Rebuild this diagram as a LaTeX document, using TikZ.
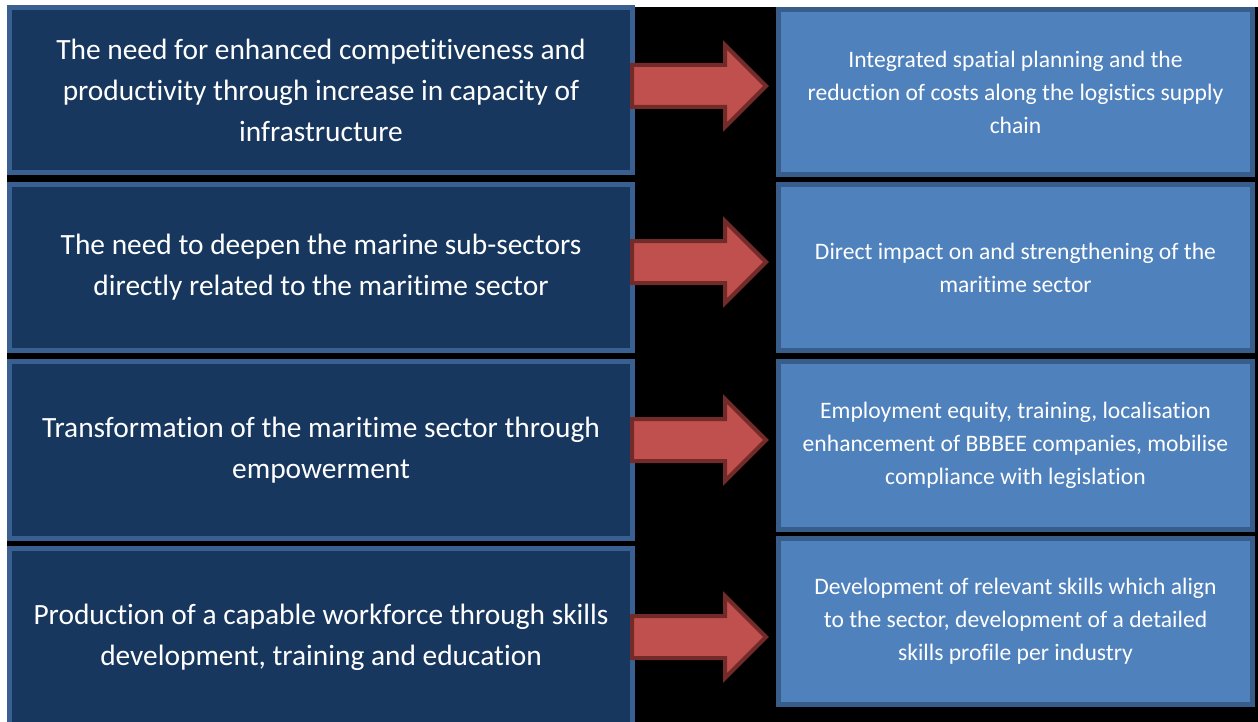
\documentclass[tikz,border=0pt]{standalone}
\usepackage{fontspec}
\setmainfont{Carlito}[Ligatures=NoCommon]
\usetikzlibrary{shapes.arrows}
\definecolor{needfill}{HTML}{17375E}
\definecolor{neededge}{HTML}{3A6091}
\definecolor{outfill}{HTML}{4F81BD}
\definecolor{outedge}{HTML}{385D8A}
\definecolor{linkfill}{HTML}{C0504D}
\definecolor{linkedge}{HTML}{722B29}

\tikzset{
    needbox/.style={draw=neededge, fill=needfill, line width=2.5pt, text=white,
        align=center, minimum width=311.5pt,
        font=\fontsize{14.7}{20.5}\selectfont},
    outbox/.style={draw=outedge, fill=outfill, line width=2.5pt, text=white,
        align=center, minimum width=237pt,
        font=\fontsize{11.8}{16.5}\selectfont},
    linkarrow/.style={single arrow, draw=linkedge, fill=linkfill, line width=2pt,
        minimum height=67pt, minimum width=39pt, inner sep=9.5pt,
        single arrow head extend=10pt, anchor=tail}
}

\begin{document}
\begin{tikzpicture}[x=0.5pt, y=-0.5pt]
\useasboundingbox (0,0) rectangle (1258,722);
\fill[white] (0,0) rectangle (1258,722);
\fill[black] (7,7) rectangle (1258,722);
\clip (0,0) rectangle (1258,722);

    \node[needbox, minimum height=82.5pt] (need1) at (321,90)
        {The need for enhanced competitiveness and\\ productivity through increase in capacity of\\ infrastructure};
    \node[needbox, minimum height=83pt] (need2) at (321,267.5)
        {The need to deepen the marine sub-sectors\\ directly related to the maritime sector};
    \node[needbox, minimum height=88.5pt] (need3) at (321,450)
        {Transformation of the maritime sector through\\ empowerment};
    \node[needbox, minimum height=88.5pt] (need4) at (321,637)
        {Production of a capable workforce through skills\\ development, training and education};

    \node[outbox, minimum height=82.5pt] (out1) at (1015.5,92)
        {Integrated spatial planning and the\\ reduction of costs along the logistics supply\\ chain};
    \node[outbox, minimum height=83pt] (out2) at (1015.5,267.5)
        {Direct impact on and strengthening of the\\ maritime sector};
    \node[outbox, minimum height=84pt] (out3) at (1015.5,445.5)
        {Employment equity, training, localisation\\ enhancement of BBBEE companies, mobilise\\ compliance with legislation};
    \node[outbox, minimum height=83pt] (out4) at (1015.5,621.5)
        {Development of relevant skills which align\\ to the sector, development of a detailed\\ skills profile per industry};

    \node[linkarrow] (link1) at ([xshift=-2.5pt, yshift=2pt]need1.east) {};
    \node[linkarrow] (link2) at ([xshift=-2.5pt, yshift=2.75pt]need2.east) {};
    \node[linkarrow] (link3) at ([xshift=-2.5pt, yshift=5pt]need3.east) {};
    \node[linkarrow] (link4) at ([xshift=-2.5pt, yshift=0pt]need4.east) {};

\end{tikzpicture}
\end{document}
